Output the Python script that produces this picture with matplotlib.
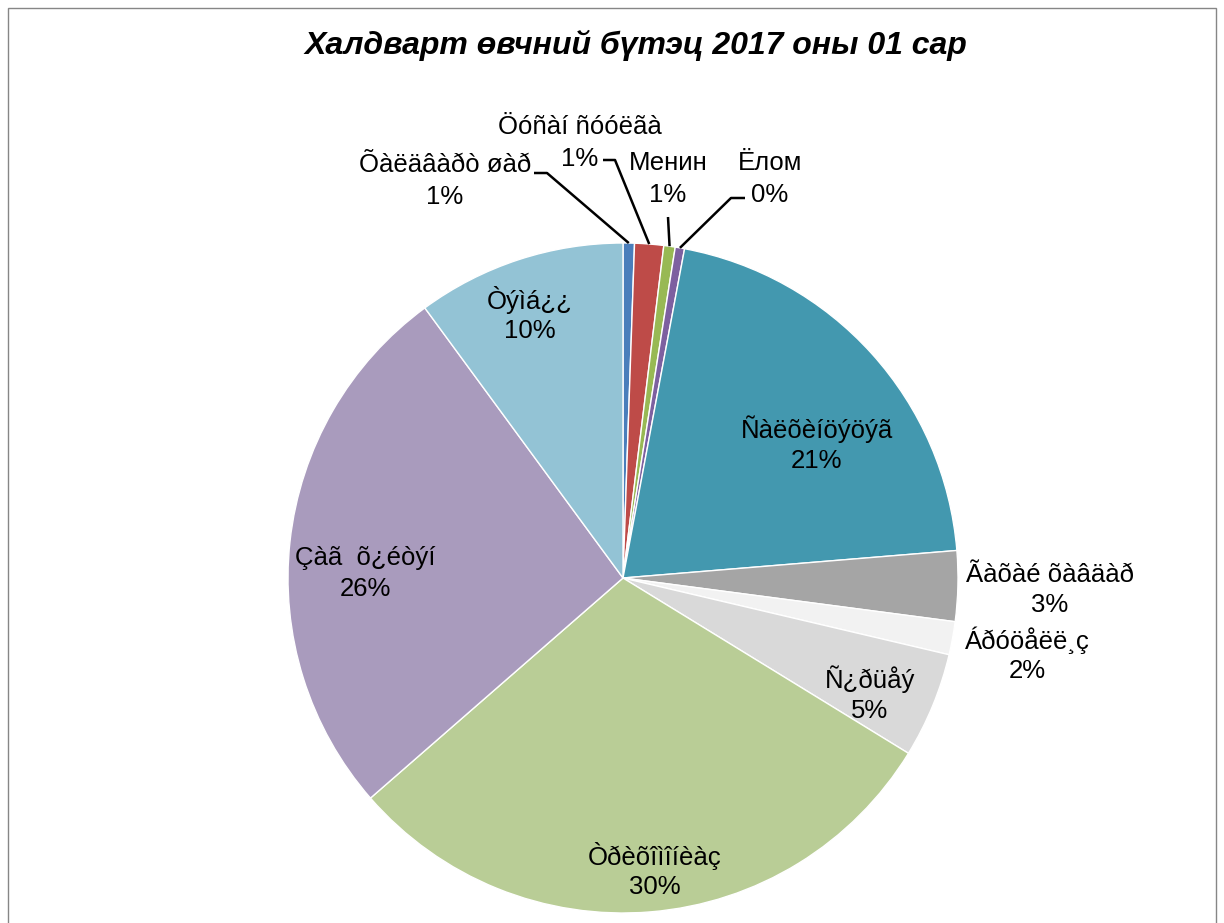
import numpy as np
import matplotlib
matplotlib.use('Agg')
import matplotlib.pyplot as plt
from matplotlib.patches import Rectangle

# slices, clockwise from 12 o'clock
labels = ['Õàëäâàðò øàð', 'Öóñàí ñóóëãà', 'Менин', 'Ёлом', 'Ñàëõèíöýöýã',
          'Ãàõàé õàâäàð', 'Áðóöåëë¸ç', 'Ñ¿ðüåý', 'Òðèõîìîíèàç', 'Çàã  õ¿éòýí', 'Òýìá¿¿']
values = [0.55, 1.4, 0.55, 0.45, 20.8, 3.4, 1.6, 5.1, 29.9, 26.4, 10.1]
colors = ['#4A7EBB', '#BE4B48', '#98B954', '#7D60A0', '#4398AF',
          '#A5A5A5', '#F2F2F2', '#D9D9D9', '#B9CD96', '#A99BBD', '#93C3D5']
title = 'Халдварт өвчний бүтэц 2017 оны 01 сар'

W, H = 1224, 923
plt.rcParams['font.family'] = ['Liberation Sans', 'DejaVu Sans']

fig = plt.figure(figsize=(W / 100, H / 100), dpi=100)
ax = fig.add_axes([0, 0, 1, 1])

cx, cy, r = 623, H - 578, 335
wedges, _ = ax.pie(values, colors=colors, startangle=90, counterclock=False,
                   center=(cx, cy), radius=r, frame=True,
                   wedgeprops=dict(edgecolor='white', linewidth=1.0))
ax.set_xlim(0, W)
ax.set_ylim(0, H)
ax.set_aspect('equal')
ax.axis('off')

total = sum(values)
pcts = ['%.0f%%' % (v / total * 100) for v in values]

# label centres in pixel coords (top-left origin)
label_pos = [(445, 181), (580, 143), (668, 179), (770, 179), (817, 445),
             (1050, 590), (1027, 656), (870, 695), (655, 872), (365, 574), (530, 315)]
gap = 31  # px between the two label lines
# leader lines: (text-side point, elbow point)
leaders = {0: [(534, 173), (547, 173)],
           1: [(603, 160), (615, 160)],
           2: [(668, 217), (668, 217)],
           3: [(745, 198), (731, 198)]}

for i, (lab, (px, py)) in enumerate(zip(labels, label_pos)):
    ax.text(px, H - (py - gap / 2), lab, ha='center', va='center',
            fontsize=18.5, color='black')
    ax.text(px, H - (py + gap / 2), pcts[i], ha='center', va='center',
            fontsize=18.5, color='black')

for i, pts in leaders.items():
    w = wedges[i]
    mid = np.deg2rad((w.theta1 + w.theta2) / 2)
    ex, ey = cx + r * np.cos(mid), cy + r * np.sin(mid)
    xs = [p[0] for p in pts] + [ex]
    ys = [H - p[1] for p in pts] + [ey]
    ax.plot(xs, ys, color='black', linewidth=1.8, solid_capstyle='butt')

fig.text(636 / W, 1 - 45 / H, title, ha='center', va='center',
         fontsize=23, fontweight='bold', fontstyle='italic')

fig.patches.append(Rectangle((8 / W, -0.01), (1216 - 8) / W, 1 - 8 / H + 0.01,
                             transform=fig.transFigure, fill=False,
                             edgecolor='#868686', linewidth=1))

fig.savefig('out.png', dpi=100)
